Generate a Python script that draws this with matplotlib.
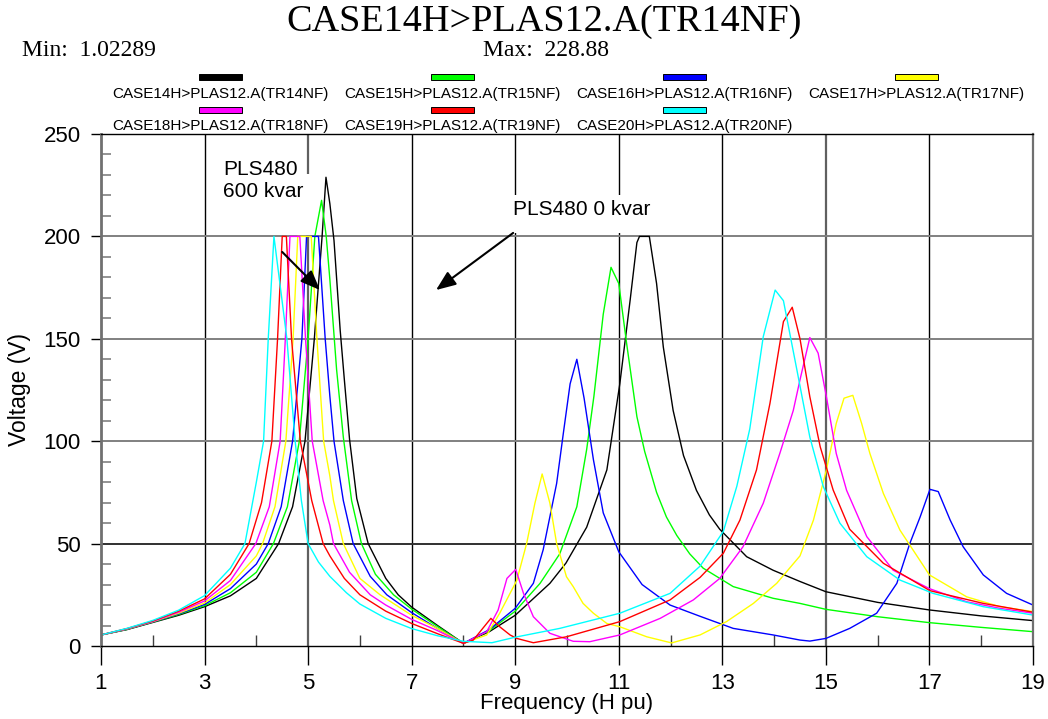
import matplotlib
matplotlib.use("Agg")
import matplotlib.pyplot as plt
import matplotlib.patches as mpatches
from matplotlib.ticker import MultipleLocator

plt.rcParams['font.family'] = ['Liberation Sans', 'DejaVu Sans']

title = "CASE14H>PLAS12.A(TR14NF)"
min_val = 1.02289
max_val = 228.88

labels = ["CASE14H>PLAS12.A(TR14NF)", "CASE15H>PLAS12.A(TR15NF)",
          "CASE16H>PLAS12.A(TR16NF)", "CASE17H>PLAS12.A(TR17NF)",
          "CASE18H>PLAS12.A(TR18NF)", "CASE19H>PLAS12.A(TR19NF)",
          "CASE20H>PLAS12.A(TR20NF)"]
colors = ["#000000", "#00ff00", "#0000ff", "#ffff00", "#ff00ff", "#ff0000", "#00ffff"]

# values (harmonic order, volts)
x14 = [1, 1.5, 2, 2.5, 3, 3.5, 4, 4.43, 4.7, 4.94, 5.12, 5.27, 5.345, 5.42, 5.5, 5.62, 5.7, 5.8,
       5.94, 6.16, 6.5, 6.74, 7, 7.5, 8, 8.5, 9, 9.67, 9.98, 10.38, 10.77, 11.02, 11.22, 11.35,
       11.4, 11.59, 11.73, 11.86, 12.05, 12.25, 12.5, 12.75, 12.95, 13.47, 13.98, 14.5, 15, 16,
       17, 18, 19]
v14 = [5.4, 8.0, 11.5, 15.0, 19.2, 24.5, 33, 50, 68, 100, 150, 200, 228.88, 216, 198, 154, 130, 101,
       72, 50, 33, 25, 19, 10, 1.3, 7, 15, 30.6, 40.5, 58, 86, 128, 169, 197,
       200, 200, 177, 146, 115, 93, 76, 64, 57, 43.6, 37, 31.5, 26.5, 21.3,
       17.6, 14.7, 12.4]

x15 = [1, 1.5, 2, 2.5, 3, 3.5, 4, 4.33, 4.6, 4.83, 5.0, 5.13, 5.26, 5.35, 5.42, 5.55, 5.68, 5.84,
       6.03, 6.3, 6.65, 7, 7.5, 8, 8.5, 9, 9.48, 9.86, 10.19, 10.38, 10.52, 10.7, 10.85, 11.0,
       11.15, 11.35, 11.5, 11.73, 11.92, 12.12, 12.37, 12.63, 13.21, 13.98, 14.5, 15, 16, 17, 18, 19]
v15 = [5.4, 8.1, 11.7, 15.4, 19.7, 26, 36, 50, 68, 100, 150, 200, 217.6, 200, 179, 135, 102, 71,
       50, 35, 25, 18, 9.5, 1.3, 7.5, 17, 30.6, 45, 68, 96, 122, 162, 184.9, 177,
       148, 112, 95, 75, 63, 54, 45, 38, 29, 23.3, 20.8, 17.9, 14.3, 11.4, 9.1, 7]

x16 = [1, 1.5, 2, 2.5, 3, 3.5, 4, 4.23, 4.48, 4.70, 4.88, 4.97, 5.20, 5.33, 5.42, 5.5, 5.68, 5.87,
       6.2, 6.52, 7, 7.5, 8, 8.5, 9, 9.35, 9.54, 9.8, 9.93, 10.06, 10.19, 10.33, 10.51, 10.7, 11.0,
       11.45, 11.99, 12.57, 13.21, 13.98, 14.5, 14.69, 15.0, 15.46, 15.98, 16.37, 16.62, 16.82,
       17.01, 17.17, 17.40, 17.65, 18.04, 18.49, 19]
v16 = [5.4, 8.2, 11.8, 15.7, 20.3, 28, 40, 50, 68, 100, 150, 200, 200, 150, 122, 100, 71, 50,
       34, 25, 16.3, 8.5, 1.3, 8, 18.4, 30.6, 47, 79.4, 104, 128, 140, 121, 91, 65, 46,
       30, 20, 14.5, 8.6, 5.4, 2.9, 2.4, 3.7, 8.6, 16, 30.6, 50, 63,
       76.5, 75.4, 61.5, 48.5, 34.7, 25.7, 20]

x17 = [1, 1.5, 2, 2.5, 3, 3.5, 4, 4.12, 4.36, 4.57, 4.71, 4.80, 5.06, 5.17, 5.3, 5.42, 5.49, 5.68,
       6.0, 6.39, 7, 7.5, 8, 8.45, 8.7, 9.03, 9.22, 9.38, 9.52, 9.67, 9.8, 9.99, 10.12, 10.31, 10.51,
       10.77, 11.02, 11.54, 12.02, 12.57, 13.08, 13.6, 14.05, 14.5, 14.76, 15.01, 15.2, 15.35,
       15.52, 15.69, 15.85, 16.11, 16.43, 17, 17.72, 18.36, 19]
v17 = [5.4, 8.3, 11.9, 16, 21, 30, 44, 50, 68, 100, 150, 200, 200, 150, 100, 83, 71, 50,
       33, 25, 15, 8.5, 1.3, 5.4, 16, 32, 50, 69.7, 84, 69.7, 50, 33.8, 29, 20.8, 16,
       11, 9.4, 4.5, 1.5, 5.4, 11.9, 20.8, 30.6, 44, 61.5, 86, 108.7, 121,
       122.4, 108.7, 94, 74.5, 56.6, 34.7, 24, 19.2, 16.8]

x18 = [1, 1.5, 2, 2.5, 3, 3.5, 3.99, 4.25, 4.46, 4.56, 4.65, 4.84, 4.95, 5.08, 5.29, 5.42, 5.49,
       5.8, 6.2, 6.5, 7, 7.5, 8, 8.45, 8.67, 8.84, 9.01, 9.16, 9.35, 9.67, 10.12, 10.44, 11.02,
       11.8, 12.44, 12.95, 13.4, 13.79, 14.11, 14.37, 14.5, 14.69, 14.85, 15.01, 15.2, 15.4,
       15.79, 16.3, 17, 17.72, 18.36, 19]
v18 = [5.4, 8.4, 12, 16.5, 22, 32, 50, 68, 100, 150, 200, 200, 150, 100, 71, 59, 50,
       36, 25, 20, 13, 7.5, 1.3, 7, 17.6, 33, 37.4, 25.7, 14.3, 6.2, 2.3, 2.1, 5.4,
       13.5, 22.5, 33, 48.5, 69.7, 94, 115, 130, 150.6, 143, 121.7, 94, 76,
       53.4, 37, 28, 21.6, 18.4, 16]

x19 = [1, 1.5, 2, 2.5, 3, 3.5, 3.86, 4.1, 4.30, 4.41, 4.50, 4.58, 4.68, 4.85, 5.07, 5.29, 5.42,
       5.7, 6.0, 6.5, 7, 7.5, 8, 8.19, 8.53, 8.7, 8.9, 9.03, 9.35, 9.99, 11.02, 11.99, 12.57,
       13.02, 13.34, 13.66, 13.92, 14.18, 14.35, 14.5, 14.69, 14.89, 15.14, 15.46, 16.11,
       17.01, 18.04, 19]
v19 = [5.4, 8.5, 12.2, 17, 23, 35, 50, 70, 100, 150, 200, 200, 150, 100, 71, 50, 44,
       33, 25, 17, 11, 6, 1.3, 2.9, 13.5, 9.4, 5.4, 3.7, 1.6, 4.5, 11.9, 22.5, 33.5,
       45.3, 61.5, 86, 118.5, 158.4, 165.4, 150, 121.7, 97.3, 76.2, 57, 40.4,
       27, 20.8, 16.5]

x20 = [1, 1.5, 2, 2.5, 3, 3.5, 3.78, 4.0, 4.14, 4.23, 4.34, 4.49, 4.59, 4.75, 4.87, 5.0, 5.2,
       5.42, 5.74, 6.0, 6.5, 7, 7.5, 8, 8.55, 9, 9.86, 11.02, 11.99, 12.57, 13.02, 13.28, 13.53,
       13.79, 14.02, 14.18, 14.44, 14.69, 14.95, 15.27, 15.79, 16.43, 17.07, 18.04, 19]
v20 = [5.4, 8.6, 12.5, 17.5, 24.6, 38, 50, 80, 100, 150, 200, 170, 150, 100, 71, 50, 41,
       34, 26, 20.5, 13.5, 8.5, 5, 2.3, 1.6, 4.3, 8.6, 16, 25.7, 39, 56, 78, 106,
       151, 173.8, 168.6, 134.8, 102, 77.8, 60, 43.6, 32.2, 25.7, 19.2, 15.1]

series = [(x14, v14), (x15, v15), (x16, v16), (x17, v17), (x18, v18), (x19, v19), (x20, v20)]

fig = plt.figure(figsize=(10.48, 7.19), dpi=100)
ax = fig.add_axes([101 / 1048, 1 - 646 / 719, 932 / 1048, 512 / 719])

# grid
for xv in range(3, 18, 2):
    if xv in (5, 15):
        ax.axvline(xv, color="#606060", lw=1.6, zorder=1)
    else:
        ax.axvline(xv, color="black", lw=1.0, zorder=1)
for yv in (50, 100, 150, 200):
    c = "#303030" if yv == 50 else "#808080"
    ax.axhline(yv, color=c, lw=1.4, zorder=1)

# white backing behind the notes
ax.add_patch(mpatches.Rectangle((3.34, 200.6), 1.78, 30, facecolor="white", edgecolor="none", zorder=1.5))
ax.add_patch(mpatches.Rectangle((8.94, 201.8), 3.0, 18.5, facecolor="white", edgecolor="none", zorder=1.5))

for (xs, vs), c in zip(series, colors):
    ax.plot(xs, vs, color=c, lw=1.0, zorder=2)

ax.set_xlim(1, 19)
ax.set_ylim(0, 250)
ax.set_xticks(range(1, 20, 2))
ax.set_xticks(range(2, 19, 2), minor=True)
ax.set_yticks(range(0, 251, 50))
ax.yaxis.set_minor_locator(MultipleLocator(10))
ax.tick_params(axis="x", which="major", direction="out", length=13.5, width=1, pad=6, labelsize=16)
ax.tick_params(axis="x", which="minor", direction="in", length=8, width=1, color="#404040")
ax.tick_params(axis="y", which="major", direction="out", length=7.5, width=1, pad=7, labelsize=16)
ax.tick_params(axis="y", which="minor", direction="in", length=7, width=1.2, color="#808080")

ax.spines["left"].set_color("#707070")
ax.spines["left"].set_linewidth(2)
ax.spines["right"].set_color("#707070")
ax.spines["right"].set_linewidth(1.6)
ax.spines["top"].set_linewidth(1)
ax.spines["bottom"].set_linewidth(1)

ax.set_xlabel("Frequency (H pu)", fontsize=16, labelpad=-1)
ax.set_ylabel("Voltage (V)", fontsize=16.5, labelpad=9)

# notes
ax.text(3.36, 219.4, "PLS480\n600 kvar", fontsize=15, ha="left", va="baseline", zorder=3)
ax.annotate("", xy=(5.23, 173.8), xytext=(4.50, 192.4),
            arrowprops=dict(arrowstyle="-|>,head_length=1.0,head_width=0.4", mutation_scale=12,
                            color="black", lw=1.5, shrinkA=0, shrinkB=0), zorder=3)
ax.text(8.96, 210.4, "PLS480 0 kvar", fontsize=15, ha="left", va="baseline", zorder=3)
ax.annotate("", xy=(7.47, 173.8), xytext=(8.96, 201.7),
            arrowprops=dict(arrowstyle="-|>,head_length=1.0,head_width=0.4", mutation_scale=12,
                            color="black", lw=1.5, shrinkA=0, shrinkB=0), zorder=3)

# header
fig.text(544 / 1048, 1 - 22 / 719, title, ha="center", va="center", fontsize=27.5,
         family="Liberation Serif")
fig.text(22 / 1048, 1 - 50 / 719, "Min:  %g" % min_val, ha="left", va="center", fontsize=17,
         family="Liberation Serif")
fig.text(483 / 1048, 1 - 50 / 719, "Max:  %g" % max_val, ha="left", va="center", fontsize=17,
         family="Liberation Serif")

# legend
col_x = [220, 452, 684, 916]
bar_y = [77, 110]
lab_y = [94, 126]
for i, (lab, c) in enumerate(zip(labels, colors)):
    r, k = divmod(i, 4)
    cx = col_x[k]
    fig.add_artist(mpatches.Rectangle(((cx - 21.5) / 1048, 1 - (bar_y[r] + 3) / 719), 43 / 1048, 6 / 719,
                                      transform=fig.transFigure, facecolor=c, edgecolor="black", lw=0.7))
    fig.text(cx / 1048, 1 - lab_y[r] / 719, lab, ha="center", va="center", fontsize=11)

fig.savefig("out.png", dpi=100)
